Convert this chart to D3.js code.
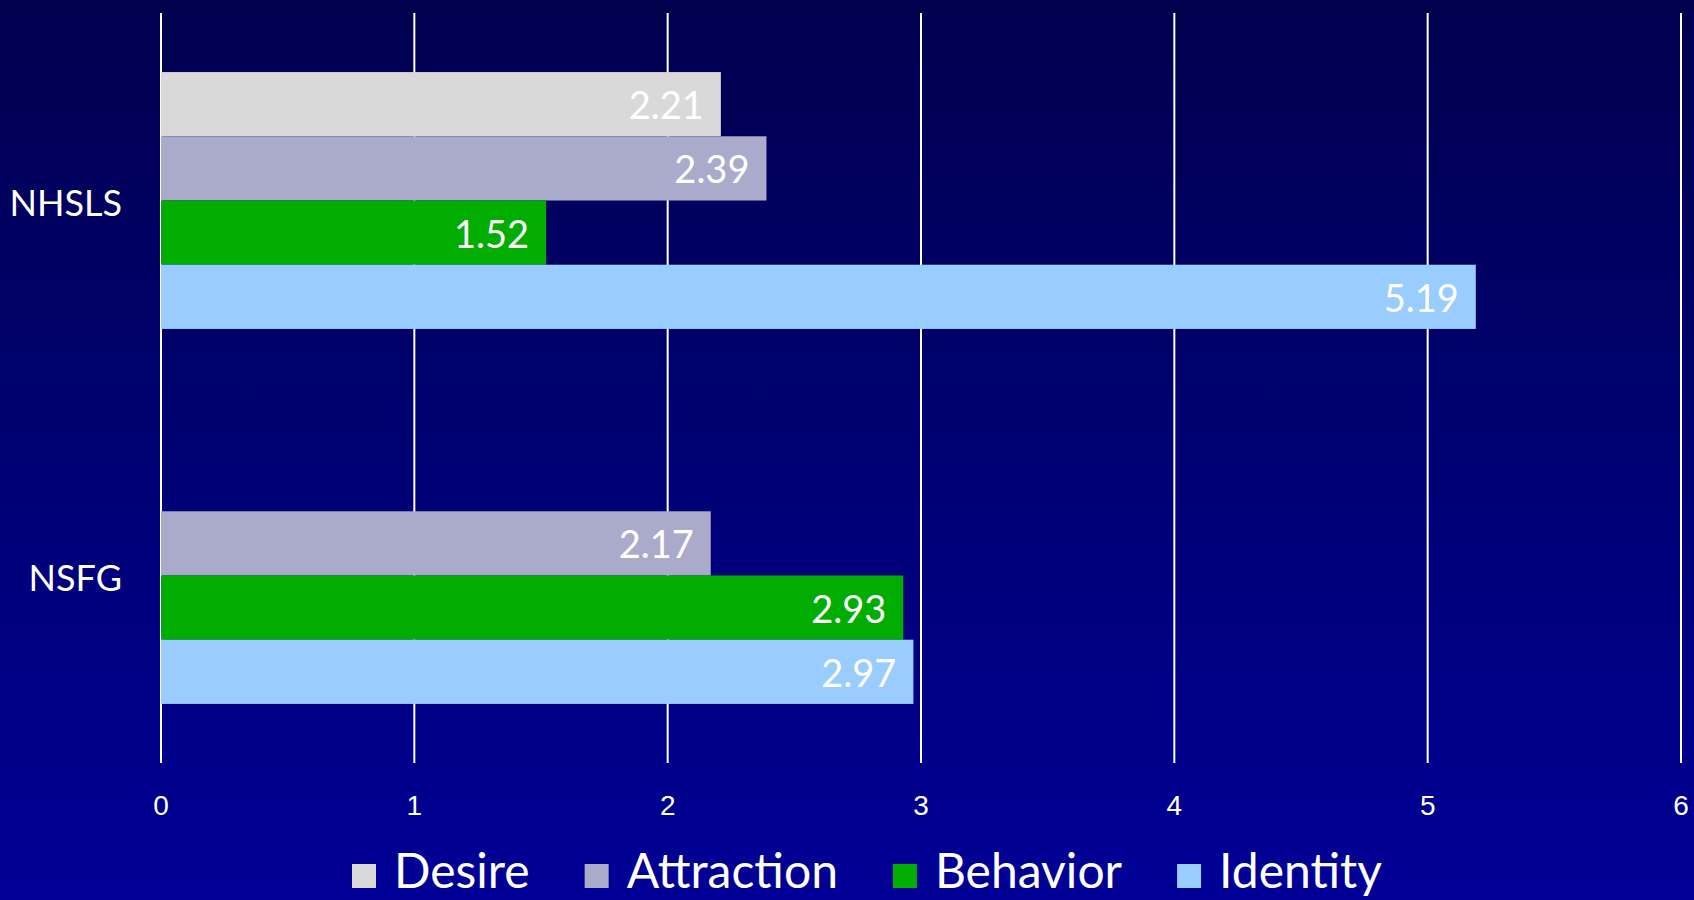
<!DOCTYPE html>
<html lang="en">
<head>
    <meta charset="UTF-8">
    <title>NHSLS vs NSFG</title>
    <script src="https://d3js.org/d3.v7.min.js"></script>
    <style>
        body { margin: 0; }
        svg { display: block; }
    </style>
</head>
<body>
    <svg id="chart" width="1694" height="900"></svg>

    <script>
        // Data
        const categories = ["NHSLS", "NSFG"];
        const series = ["Desire", "Attraction", "Behavior", "Identity"];
        const nhslsValues = [2.21, 2.39, 1.52, 5.19];
        const nsfgValues = [null, 2.17, 2.93, 2.97];
        const xTicks = [0, 1, 2, 3, 4, 5, 6];
        const colors = ["#d9d9d9", "#aaabca", "#00ad00", "#99ccff"];

        const rows = [];
        [nhslsValues, nsfgValues].forEach((vals, ci) => {
            vals.forEach((v, si) => {
                if (v != null) rows.push({ cat: categories[ci], key: series[si], value: v });
            });
        });

        const svg = d3.select("#chart"),
            W = +svg.attr("width"),
            H = +svg.attr("height");

        // background gradient
        const grad = svg.append("defs").append("linearGradient")
            .attr("id", "bg").attr("x1", 0).attr("y1", 0).attr("x2", 0).attr("y2", 1);
        grad.append("stop").attr("offset", "0%").attr("stop-color", "#00004e");
        grad.append("stop").attr("offset", "100%").attr("stop-color", "#000096");
        svg.append("rect").attr("width", W).attr("height", H).attr("fill", "url(#bg)");

        // Scales
        const x = d3.scaleLinear().domain([0, 6]).range([161, 1681]);
        const y0 = d3.scaleBand().domain(categories).range([13, 763]);
        const y1 = d3.scaleBand().domain(series).range([0, y0.bandwidth()]).paddingOuter(0.92);
        const color = d3.scaleOrdinal().domain(series).range(colors);

        // Gridlines
        svg.append("g")
            .selectAll("line")
            .data(xTicks)
            .join("line")
            .attr("x1", d => x(d)).attr("x2", d => x(d))
            .attr("y1", 13).attr("y2", 763)
            .attr("stroke", "#ffffff")
            .attr("stroke-width", 2);

        // Tick labels
        svg.append("g")
            .selectAll("text")
            .data(xTicks)
            .join("text")
            .attr("x", d => x(d))
            .attr("y", 815)
            .attr("text-anchor", "middle")
            .attr("fill", "#ffffff")
            .style("font-family", "'Liberation Sans', Arial, sans-serif")
            .style("font-size", "28px")
            .text(d => d);

        // Bars
        const bars = svg.append("g")
            .selectAll("g")
            .data(rows)
            .join("g")
            .attr("transform", d => `translate(0,${y0(d.cat) + y1(d.key)})`);

        bars.append("rect")
            .attr("x", x(0))
            .attr("width", d => x(d.value) - x(0))
            .attr("height", y1.bandwidth())
            .attr("fill", d => color(d.key));

        bars.append("text")
            .attr("x", d => x(d.value) - 17)
            .attr("y", y1.bandwidth() / 2 + 15)
            .attr("text-anchor", "end")
            .attr("fill", "#ffffff")
            .style("font-family", "Lato, sans-serif")
            .style("font-size", "38px")
            .text(d => d.value.toFixed(2));

        // Category labels
        svg.append("g")
            .selectAll("text")
            .data(categories)
            .join("text")
            .attr("x", 122)
            .attr("y", d => y0(d) + y0.bandwidth() / 2 + 15)
            .attr("text-anchor", "end")
            .attr("fill", "#ffffff")
            .style("font-family", "Lato, sans-serif")
            .style("font-size", "36px")
            .text(d => d);

        // Legend
        const legend = svg.append("g");
        let cursor = 0;
        series.forEach(s => {
            const item = legend.append("g").attr("transform", `translate(${cursor},0)`);
            item.append("rect")
                .attr("y", 864)
                .attr("width", 24)
                .attr("height", 24)
                .attr("fill", color(s));
            const t = item.append("text")
                .attr("x", 42)
                .attr("y", 888)
                .attr("fill", "#ffffff")
                .style("font-family", "Lato, sans-serif")
                .style("font-size", "48px")
                .text(s);
            cursor += 42 + t.node().getComputedTextLength() + 55;
        });
        const legendW = cursor - 55;
        legend.attr("transform", `translate(${867 - legendW / 2},0)`);
    </script>
</body>
</html>
